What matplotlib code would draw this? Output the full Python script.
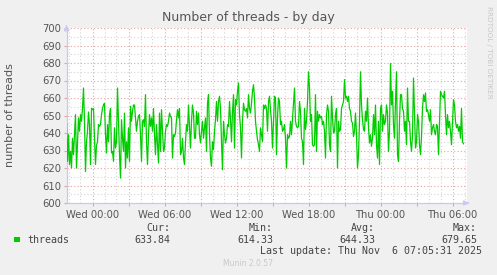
import matplotlib
matplotlib.use("Agg")
import matplotlib.pyplot as plt
import matplotlib.dates as mdates
import pandas as pd
import numpy as np

# ---- data (threads, 5-minute samples) ----
seg1 = [645.3, 623.8, 639, 622, 629.5, 620, 637, 627.6, 639, 650.5, 620, 635, 648.6, 641, 650.5,
        646.7, 654, 665.7, 646.7, 618, 635, 641, 652, 644.8, 622, 654, 653.3, 654, 637, 622,
        633, 635, 644.8, 643.8, 644.8, 650.5, 654, 656, 657, 639, 628.6, 644.8, 635, 650.5,
        654, 628.6, 629.5, 623.8]
seg2 = [629.5, 643, 631.4, 635, 665.7, 646.7, 627.6, 614.3, 647.6, 637, 629.5, 651.4, 620, 635,
        625.7, 643, 623.8, 655.2, 646.7, 652.4, 656, 656, 648.6, 641, 646.7, 649.5, 650.5, 639,
        623.8, 646.7, 647.6, 643.8, 661.9, 635, 622, 639, 650.5, 643.8, 648.6, 641, 654, 639,
        627.6, 644.8, 633.3, 622.9, 651.4, 629.5, 653.3, 641, 629.5]
seg3 = [627.6, 631.4, 641, 644.8, 643.8, 646.7, 651.4, 649.5, 648.6, 625.7, 639, 638, 640, 647.6,
        653.3, 648.6, 654, 627.6, 629.5, 637, 625.7, 622, 635, 644.8, 641, 656, 643, 631.4,
        646.7, 656, 651.4, 637, 637, 652.4, 644.8, 651.4, 639, 634.3, 641, 646.7, 637, 643,
        648.6, 629.5, 657, 661.9, 639, 625.7, 621, 635, 630.5]
seg4 = [631.4, 641, 647.6, 658, 646.7, 658, 661, 654, 635, 619, 646.7, 639, 634.3, 637, 644.8,
        643.8, 658, 647.6, 635, 652.4, 661.9, 631.4, 659, 656, 663.8, 668.6, 650.5, 643, 625.7,
        646.7, 657, 653.3, 652.4, 654, 648.6, 661.9, 654, 651.4, 657, 663.8, 667.6, 660, 646.7,
        641, 636.2, 633.3, 629.5, 643, 639, 635, 656]
seg5 = [655.2, 654, 656, 654, 641, 658, 661, 653.3, 646.7, 631.4, 646.7, 661, 660, 627.6, 648.6,
        660, 658, 644.8, 646.7, 641, 642, 644.8, 637, 620, 639, 637, 638, 646.7, 639, 647.6,
        656, 665.7, 646.7, 643.8, 643, 643.8, 658, 652.4, 637, 635, 622, 654, 642, 646.7, 658,
        675, 665.7, 646.7, 650.5, 633.3, 632.4]
seg6 = [632.4, 633.3, 661.9, 629.5, 652.4, 646.7, 650.5, 648.6, 649.5, 644.8, 646.7, 641, 625.7,
        650.5, 656, 652.4, 633.3, 629.5, 661, 648.6, 640, 641, 650.5, 654, 620, 646.7, 641, 642,
        654, 656, 658, 670.5, 660, 661, 658, 661, 654, 652.4, 646.7, 645.7, 638, 641, 651.4,
        639, 620, 627.6, 646.7, 675, 656, 647.6, 642]
seg7 = [646.7, 641, 652.4, 646.7, 660, 643, 634.3, 639, 632.4, 637, 650.5, 639, 656, 633.3, 625.7,
        646.7, 622, 654, 656, 641, 650.5, 644.8, 646.7, 656, 651.4, 629.5, 641, 679.65, 656,
        663.8, 644.8, 637, 658, 675, 627.6, 623.8, 646.7, 661.9, 661.9, 654, 652.4, 641, 646.7,
        633.3, 665.7, 646.7, 646.7, 635, 629.5, 639, 671.4]
seg8 = [671.4, 650.5, 631.4, 635, 650.5, 646.7, 633.3, 627.6, 638, 654, 661.9, 658, 662.9, 652.4,
        653.3, 650.5, 646.7, 653.3, 639, 643, 644.8, 641, 639, 644.8, 643.8, 627.6, 646.7, 663.8,
        661.9, 661, 660, 663.8, 650.5, 639, 650.5, 643, 646.7, 641, 633.3, 646.7, 659, 656,
        646.7, 643, 644.8, 641, 643.8, 637, 654, 635, 633.84]

segments = [seg1, seg2, seg3, seg4, seg5, seg6, seg7, seg8]
values = list(seg1)
for s in segments[1:]:
    values.extend(s[1:])

times = pd.date_range("2025-11-04 21:50", periods=len(values), freq="5min")

y_ticks = list(range(600, 701, 10))
title = "Number of threads - by day"
ylabel = "number of threads"
series_name = "threads"
cur, vmin, avg, vmax = "633.84", "614.33", "644.33", "679.65"
last_update = "Last update: Thu Nov  6 07:05:31 2025"

# ---- figure ----
W, H = 497, 275
fig = plt.figure(figsize=(W / 100, H / 100), dpi=100, facecolor="#F0F0F0")
L, T, R, B = 66.5, 28, 466.5, 203
ax = fig.add_axes([L / W, 1 - B / H, (R - L) / W, (B - T) / H])
ax.set_facecolor("white")

line_color = "#00CC00"
ax.plot(times, values, color=line_color, lw=0.9, zorder=3)

x0 = pd.Timestamp("2025-11-04 21:50")
x1 = pd.Timestamp("2025-11-06 07:10")
ax.set_xlim(x0, x1)
ax.set_ylim(600, 700)

# gridlines
minor_c = "#d4d4d4"
major_c = "#e6a3a3"
dot = (0, (1, 2))
for t in pd.date_range("2025-11-04 22:00", "2025-11-06 07:00", freq="1h"):
    c = major_c if t.hour % 3 == 0 else minor_c
    ax.axvline(t, color=c, lw=0.8, ls=dot, zorder=1)
for v in range(605, 701, 5):
    c = major_c if v % 10 == 0 else minor_c
    ax.axhline(v, color=c, lw=0.8, ls=dot, zorder=1)

# ticks
ax.xaxis.set_major_locator(mdates.HourLocator(byhour=[0, 6, 12, 18]))
ax.xaxis.set_major_formatter(mdates.DateFormatter("%a %H:%M"))
ax.xaxis.set_minor_locator(mdates.HourLocator(byhour=range(0, 24, 3)))
ax.set_yticks(y_ticks)
ax.tick_params(axis="both", which="both", labelsize=7.2, labelcolor="#555555",
               length=2, width=0.8, color=major_c, pad=2)
ax.tick_params(axis="x", which="major", pad=3)

for s in ["top", "right"]:
    ax.spines[s].set_visible(False)
for s in ["left", "bottom"]:
    ax.spines[s].set_color("#c8c8f0")
    ax.spines[s].set_linewidth(0.9)

# arrows at axis ends
ax.annotate("", xy=(0, 1.035), xytext=(0, 0.99), xycoords="axes fraction",
            arrowprops=dict(arrowstyle="-|>,head_width=0.15,head_length=0.35",
                            color="#c8c8f0", lw=0.8), annotation_clip=False)
ax.annotate("", xy=(1.015, 0), xytext=(0.995, 0), xycoords="axes fraction",
            arrowprops=dict(arrowstyle="-|>,head_width=0.15,head_length=0.35",
                            color="#c8c8f0", lw=0.8), annotation_clip=False)

# title & labels
fig.text(248 / W, 1 - 18 / H, title, ha="center", va="center", fontsize=9, color="#555555")
fig.text(10 / W, 1 - 115 / H, ylabel, ha="center", va="center", rotation=90,
         fontsize=8, color="#555555")
fig.text(489 / W, 1 - 52 / H, "RRDTOOL / TOBI OETIKER", ha="center", va="center",
         rotation=270, fontsize=5.2, color="#c8c8c8")

# legend
mono = "DejaVu Sans Mono"
tc = "#444444"
fs = 7.2
fig.patches.append(plt.Rectangle((14 / W, 1 - 242 / H), 5.5 / W, 5.5 / H,
                                 transform=fig.transFigure, facecolor=line_color,
                                 edgecolor="none"))
fig.text(27 / W, 1 - 240 / H, series_name, ha="left", va="center", family=mono, fontsize=fs, color=tc)
for lab, val, xr in [("Cur:", cur, 170), ("Min:", vmin, 273), ("Avg:", avg, 375), ("Max:", vmax, 477)]:
    fig.text(xr / W, 1 - 228 / H, lab, ha="right", va="center", family=mono, fontsize=fs, color=tc)
    fig.text(xr / W, 1 - 240 / H, val, ha="right", va="center", family=mono, fontsize=fs, color=tc)
fig.text(482 / W, 1 - 251.5 / H, last_update, ha="right", va="center", family=mono,
         fontsize=fs, color=tc)
fig.text(248 / W, 1 - 264 / H, "Munin 2.0.57", ha="center", va="center", fontsize=5.5,
         color="#c8c8c8")

fig.savefig("out.png", dpi=100, facecolor=fig.get_facecolor())
